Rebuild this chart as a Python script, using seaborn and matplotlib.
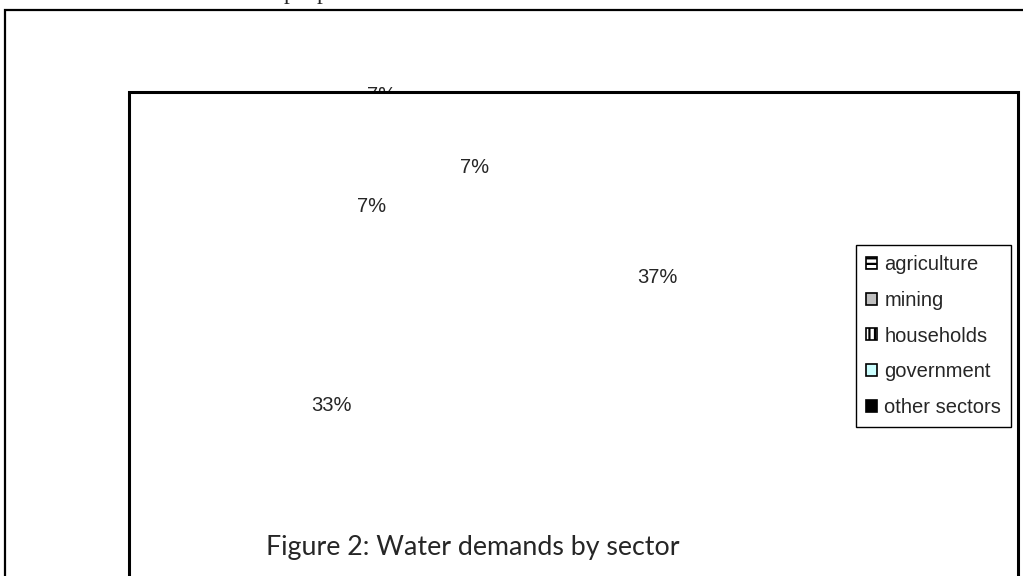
import numpy as np
import matplotlib.pyplot as plt
import matplotlib.patches as mpatches
import seaborn as sns

sns.set_style("white")
plt.rcParams['font.family'] = ['Liberation Sans', 'DejaVu Sans']
plt.rcParams['hatch.linewidth'] = 1.6

# data
sectors = ["agriculture", "mining", "households", "government", "other sectors"]
shares = [37, 33, 7, 7, 7]
caption = "Figure 2: Water demands by sector"

# styles (legend swatches, label distances)
colors = ["white", "#C0C0C0", "white", "#CCFFFF", "black"]
hatches = ["---", None, "|||", None, None]
label_r = [1.87, 1.87, 1.23, 2.04, 1.13]

W, H = 1023, 576
fig = plt.figure(figsize=(W / 100, H / 100), dpi=100)


def fx(px):
    return px / W


def fy(py):
    return 1 - py / H


# outer frame of the first chart object
fig.patches.append(mpatches.Rectangle((fx(5), fy(600)), fx(1060) - fx(5), fy(10) - fy(600),
                                      transform=fig.transFigure, fill=False,
                                      ec="black", lw=1.6))
# line of body text above, mostly off the page
fig.text(fx(284), 1 + 1 / H, "people", family="Liberation Serif", fontsize=17, va="baseline")

ax = fig.add_axes([fx(220), fy(530), 500 / W, 500 / H])
wedges, _ = ax.pie(shares, startangle=74, counterclock=False, radius=1,
                   wedgeprops=dict(fill=False, linewidth=0), frame=False)
ax.set_xlim(-2.5, 2.5)
ax.set_ylim(-2.5, 2.5)
ax.axis("off")

# inner chart frame (white, covers what's beneath)
ax.add_patch(mpatches.Rectangle((fx(129), fy(620)), fx(1018) - fx(129), fy(92) - fy(620),
                                transform=fig.transFigure, facecolor="white",
                                ec="black", lw=2.2, zorder=2, clip_on=False))

for i, (w, v) in enumerate(zip(wedges, shares)):
    theta = np.deg2rad((w.theta1 + w.theta2) / 2)
    r = label_r[i]
    ax.text(r * np.cos(theta), r * np.sin(theta), f"{v}%", ha="center", va="center",
            fontsize=14.5, zorder=1 if i == 3 else 3, clip_on=False)

handles = [mpatches.Patch(facecolor=c, edgecolor="black", hatch=h, lw=1.2, label=s)
           for s, c, h in zip(sectors, colors, hatches)]
leg = fig.legend(handles=handles, loc="upper left", bbox_to_anchor=(fx(856), fy(245)),
                 frameon=True, fancybox=False, framealpha=1, edgecolor="black",
                 fontsize=14.5, handlelength=0.55, handleheight=0.55, handletextpad=0.35,
                 labelspacing=0.83, borderpad=0.5, borderaxespad=0)
leg.get_frame().set_linewidth(1.0)
leg.set_zorder(10)

fig.text(fx(266), fy(555), caption, family=["Lato", "DejaVu Sans"], fontsize=19.3,
         va="baseline")

fig.savefig("out.png", dpi=100)
